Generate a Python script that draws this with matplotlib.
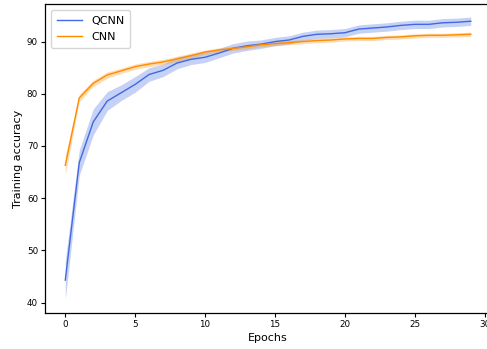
import numpy as np
import matplotlib
matplotlib.use("Agg")
import matplotlib.pyplot as plt

epochs = np.arange(30)

qcnn_mean = [44.3, 66.8, 74.6, 78.6, 80.2, 81.8, 83.7, 84.5, 85.9, 86.6,
             87.0, 87.8, 88.7, 89.2, 89.5, 90.0, 90.3, 91.0, 91.4, 91.5,
             91.7, 92.4, 92.6, 92.8, 93.1, 93.3, 93.3, 93.6, 93.7, 93.9]
qcnn_err = [3.7, 2.4, 2.5, 1.8, 1.5, 1.5, 1.3, 1.2, 1.1, 1.0,
            1.0, 0.9, 0.9, 0.9, 0.8, 0.8, 0.8, 0.8, 0.8, 0.8,
            0.8, 0.8, 0.8, 0.8, 0.8, 0.8, 0.8, 0.8, 0.8, 0.8]

cnn_mean = [66.3, 79.2, 82.0, 83.6, 84.4, 85.2, 85.7, 86.1, 86.7, 87.3,
            88.0, 88.4, 88.7, 89.0, 89.4, 89.6, 89.8, 90.0, 90.2, 90.3,
            90.5, 90.6, 90.6, 90.8, 90.9, 91.1, 91.2, 91.2, 91.3, 91.4]
cnn_err = [1.8, 0.7, 0.6, 0.6, 0.5, 0.5, 0.5, 0.5, 0.5, 0.5,
           0.4, 0.4, 0.4, 0.4, 0.4, 0.4, 0.4, 0.4, 0.4, 0.4,
           0.4, 0.4, 0.4, 0.4, 0.4, 0.4, 0.4, 0.4, 0.4, 0.4]

plt.rcParams['font.size'] = 6.3
plt.rcParams['xtick.major.size'] = 2.6
plt.rcParams['ytick.major.size'] = 2.6
plt.rcParams['xtick.major.pad'] = 2.4
plt.rcParams['ytick.major.pad'] = 2.4
plt.rcParams['axes.linewidth'] = 0.9

fig = plt.figure(figsize=(4.87, 3.49), dpi=100)
ax = fig.add_axes([45/487, 1 - 313/349, 446/487, 309/349])

q = np.array(qcnn_mean)
qe = np.array(qcnn_err)
c = np.array(cnn_mean)
ce = np.array(cnn_err)

ax.plot(epochs, q, color='royalblue', lw=1.0, label='QCNN')
ax.fill_between(epochs, q - qe, q + qe, color='royalblue', alpha=0.3, lw=0)
ax.plot(epochs, c, color='darkorange', lw=1.0, label='CNN')
ax.fill_between(epochs, c - ce, c + ce, color='darkorange', alpha=0.3, lw=0)

ax.set_xlim(-1.45, 30.45)
ax.set_ylim(38.0, 97.2)
ax.set_xlabel('Epochs', fontsize=8, labelpad=3)
ax.set_ylabel('Training accuracy', fontsize=8, labelpad=3)
ax.legend(loc='upper left', fontsize=8, handlelength=2.3,
          borderpad=0.55, labelspacing=0.6)

fig.savefig('out.png', dpi=100)
